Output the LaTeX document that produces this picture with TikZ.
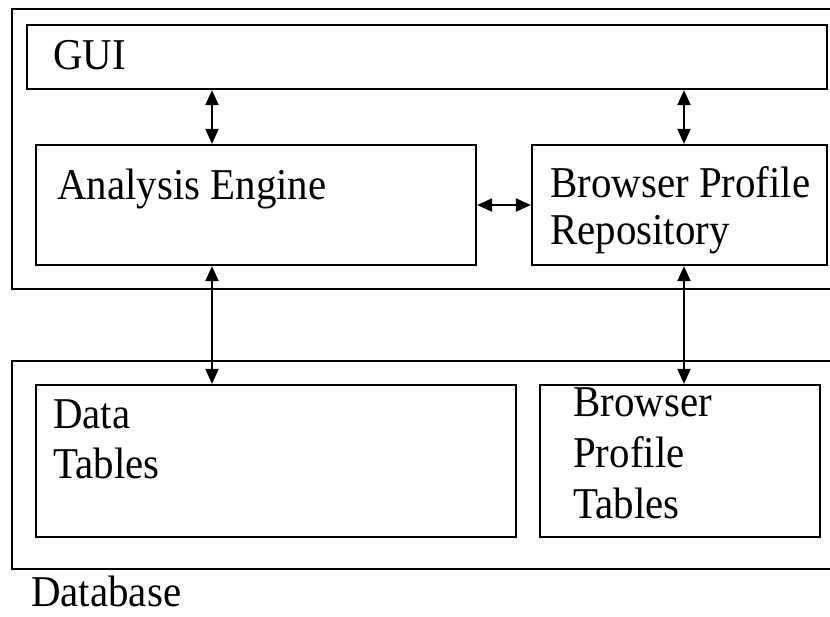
\documentclass[tikz,border=0pt]{standalone}
\usepackage{fontspec}
\setmainfont{Liberation Serif}[FakeStretch=0.93]
\usetikzlibrary{arrows.meta}

\tikzset{
  box/.style={draw, line width=2.2pt, inner sep=0pt},
  frame/.style={line width=2.2pt},
  label/.style={anchor=base west, inner sep=0pt, font=\fontsize{44}{50}\selectfont},
  link/.style={line width=2pt, {Triangle[length=15pt,width=13pt]}-{Triangle[length=15pt,width=13pt]}}
}

\begin{document}
\begin{tikzpicture}[x=1pt, y=-1pt]
  \useasboundingbox (0,0) rectangle (830,616);

  % application frame and database frame (open on the right)
  \draw[frame] (834,9) -- (12,9) -- (12,289) -- (834,289);
  \draw[frame] (834,361) -- (12,361) -- (12,569) -- (834,569);

  % component boxes
  \node[box, minimum width=800pt, minimum height=64pt]  (gui) at (427,57) {};
  \node[box, minimum width=440pt, minimum height=120pt] (ae)  at (256,205) {};
  \node[box, minimum width=295pt, minimum height=120pt] (bpr) at (679.5,205) {};
  \node[box, minimum width=480pt, minimum height=152pt] (dt)  at (276,461) {};
  \node[box, minimum width=280pt, minimum height=152pt] (bpt) at (680,461) {};

  % texts
  \node[label] (tgui)  at (53,69)   {GUI};
  \node[label] (tae)   at (57,199)  {Analysis Engine};
  \node[label] (tbpr1) at (550,197) {Browser Profile};
  \node[label] (tbpr2) at (550,244) {Repository};
  \node[label] (tdt1)  at (53,428)  {Data};
  \node[label] (tdt2)  at (53,478)  {Tables};
  \node[label] (tbpt1) at (573,416) {Browser};
  \node[label] (tbpt2) at (573,467) {Profile};
  \node[label] (tbpt3) at (573,518) {Tables};
  \node[label] (tdb)   at (31,606)  {Database};

  % connector columns
  \coordinate (cl) at (212,0);
  \coordinate (cr) at (684,0);

  \draw[link] (gui.south -| cl) -- (ae.north -| cl);
  \draw[link] (gui.south -| cr) -- (bpr.north -| cr);
  \draw[link] (ae.east) -- (bpr.west);
  \draw[link] (ae.south -| cl) -- (dt.north -| cl);
  \draw[link] (bpr.south -| cr) -- (bpt.north -| cr);
\end{tikzpicture}
\end{document}
